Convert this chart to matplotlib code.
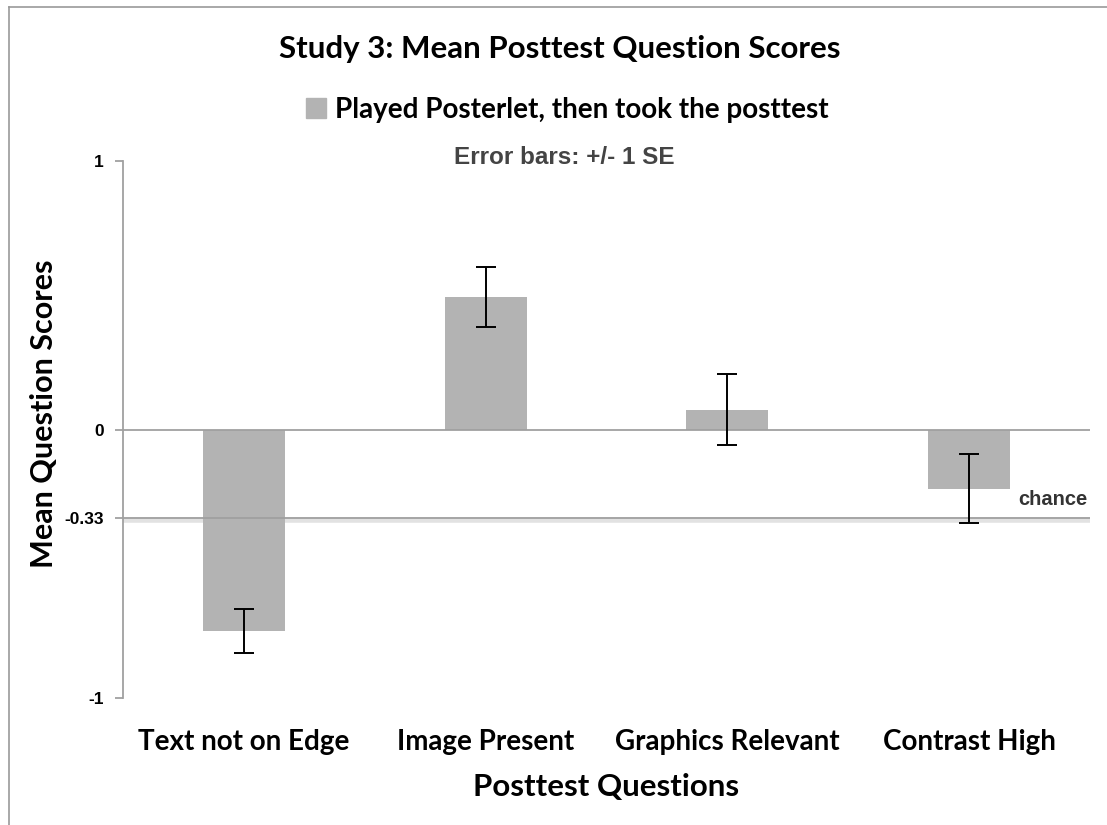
import matplotlib
matplotlib.use('Agg')
import matplotlib.pyplot as plt
from matplotlib.lines import Line2D
from matplotlib.patches import Patch

# data
questions = ['Text not on Edge', 'Image Present', 'Graphics Relevant', 'Contrast High']
mean_scores = [-0.752, 0.495, 0.074, -0.22]
se = [0.082, 0.112, 0.132, 0.128]
chance = -0.33
yticks = [1, 0, -0.33, -1]
ytick_labels = ['1', '0', '-0.33', '-1']

W, H = 1107, 825
fig = plt.figure(figsize=(W / 100, H / 100), dpi=100)
ax = fig.add_axes([123 / W, 1 - 698 / H, (1090 - 123) / W, (698 - 161) / H])

cal = ['Lato', 'DejaVu Sans']
ari = ['Liberation Sans', 'DejaVu Sans']
bar_c = '#b3b3b3'
line_c = '#a0a0a0'

x = range(len(questions))
ax.bar(x, mean_scores, width=0.34, color=bar_c, zorder=2)
ax.errorbar(x, mean_scores, yerr=se, fmt='none', ecolor='black', elinewidth=1.4,
            capsize=7, capthick=1.4, zorder=4)

ax.axhline(0, color=line_c, lw=1.3, zorder=3)
# chance line with a soft shadow under it
ax.axhline(chance - 0.006, color='#e2e2e2', lw=4, zorder=1)
ax.axhline(chance, color=line_c, lw=1.3, zorder=3)
ax.text(3.49, chance + 0.035, 'chance', ha='right', va='bottom', fontsize=14.5,
        fontweight='bold', color='#333333', family=ari)

ax.set_xlim(-0.5, 3.5)
ax.set_ylim(-1, 1)
for s in ['top', 'right', 'bottom']:
    ax.spines[s].set_visible(False)
ax.spines['left'].set_color(line_c)
ax.spines['left'].set_linewidth(1.3)

ax.set_yticks(yticks)
ax.set_yticklabels(ytick_labels, family=ari, fontweight='bold', fontsize=12.5)
ax.tick_params(axis='y', length=6, color=line_c, width=1.3, pad=8)
ax.tick_params(axis='x', length=0, pad=22)
ax.set_xticks(list(x))
ax.set_xticklabels(questions, family=cal, fontweight='bold', fontsize=20)

ax.set_xlabel('Posttest Questions', family=cal, fontweight='bold', fontsize=22.5, labelpad=13)
ax.set_ylabel('Mean Question Scores', family=cal, fontweight='bold', fontsize=22)
ax.yaxis.set_label_coords(-0.067, 0.53)

fig.text(560 / W, 1 - 49 / H, 'Study 3: Mean Posttest Question Scores', ha='center', va='center',
         family=cal, fontweight='bold', fontsize=22.5)
fig.legend(handles=[Patch(color=bar_c)], labels=['Played Posterlet, then took the posttest'],
           loc='center', bbox_to_anchor=(567 / W, 1 - 110 / H), frameon=False,
           prop={'family': cal, 'weight': 'bold', 'size': 20},
           handlelength=0.75, handleheight=0.75, handletextpad=0.3)
fig.text(564 / W, 1 - 158 / H, 'Error bars: +/- 1 SE', ha='center', va='center',
         family=ari, fontweight='bold', fontsize=17.5, color='#444444')

# outer chart border (left and top only visible)
fig.add_artist(Line2D([9 / W, 9 / W], [0, 1 - 7 / H], color='#999999', lw=1.2))
fig.add_artist(Line2D([9 / W, 1], [1 - 7 / H, 1 - 7 / H], color='#999999', lw=1.2))

fig.savefig('out.png', dpi=100)
